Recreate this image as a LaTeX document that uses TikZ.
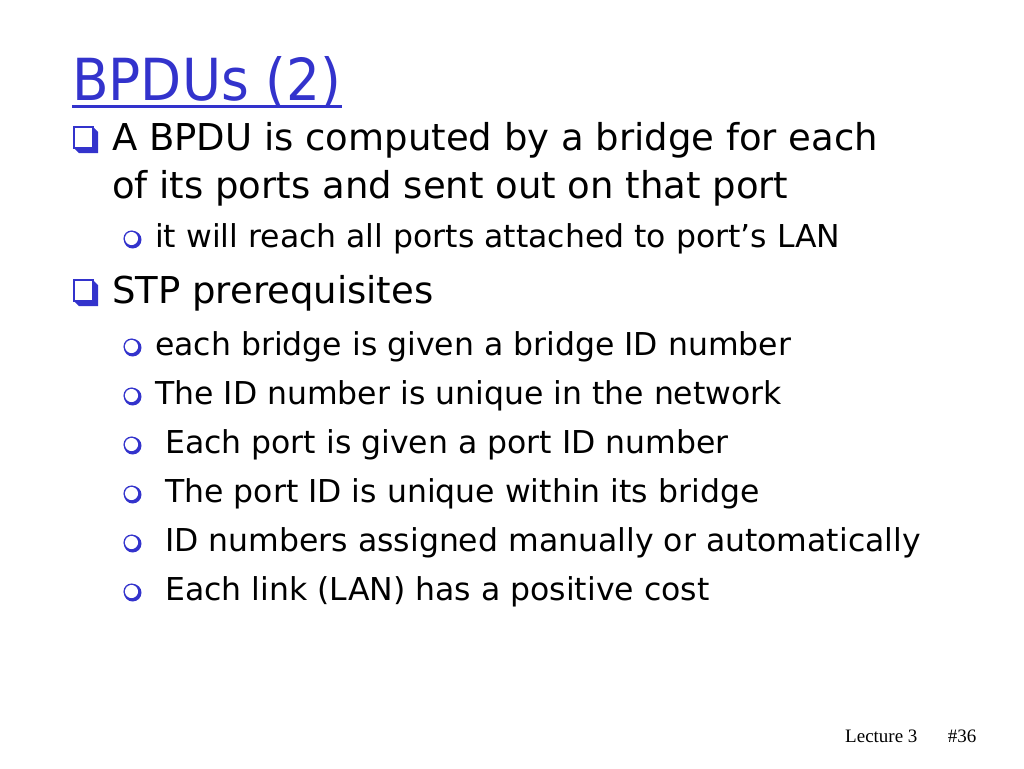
\documentclass[tikz,border=0pt]{standalone}
\usepackage{fontspec}
\setmainfont{DejaVu Sans}
\newfontfamily\footfont{Liberation Serif}
\usepackage{tikz}
\usetikzlibrary{positioning}
\definecolor{slideblue}{RGB}{51,51,204}
\tikzstyle{heading}=[anchor=base west, inner sep=0pt, text=slideblue, font=\fontsize{58}{66}\selectfont]
\tikzstyle{point}=[anchor=base west, inner sep=0pt, font=\fontsize{37}{44}\selectfont]
\tikzstyle{subpoint}=[anchor=base west, inner sep=0pt, font=\fontsize{31.5}{38}\selectfont]
\tikzstyle{footer}=[anchor=base west, inner sep=0pt, font=\footfont\fontsize{19}{22}\selectfont]
\newcommand{\boxbullet}[1]{%
  \begin{scope}[shift={(#1)}]
    \fill[slideblue] (-19,-23) -- (-14,-18) -- (-14,3) -- (-33,3) -- (-38,-2) -- (-19,-2) -- cycle;
    \draw[slideblue, line width=2.2pt] (-38,-23) rectangle (-19,-2);
  \end{scope}}
\newcommand{\ringbullet}[1]{%
  \begin{scope}[shift={(#1)}]
    \fill[slideblue] (-22.3,-7.3) circle (8.8);
    \fill[white] (-23.5,-8.5) circle (6.6);
    \draw[slideblue, line width=1pt] (-23.5,-8.5) circle (7.5);
  \end{scope}}

\begin{document}
\begin{tikzpicture}[x=1pt, y=-1pt]
    \useasboundingbox (0,0) rectangle (1024,768);
    \node [heading] (title) at (72,100) {\scalebox{0.92}[1]{BPDUs (2)}};
    \draw [slideblue, line width=3pt] ([yshift=-6pt]title.base west) -- ([yshift=-6pt]title.base east);
    \node [point] (a) at (112,150) {A BPDU is computed by a bridge for each};
    \node [point, below=48pt of a.base west, anchor=base west] (b) {of its ports and sent out on that port};
    \node [subpoint] (c) at (155,247) {it will reach all ports attached to port’s LAN};
    \node [point] (d) at (112,303) {STP prerequisites};
    \node [subpoint] (e) at (155,355) {each bridge is given a bridge ID number};
    \node [subpoint, below=49pt of e.base west, anchor=base west] (f) {The ID number is unique in the network};
    \node [subpoint, below=49pt of f.base west, anchor=base west] (g) {\ Each port is given a port ID number};
    \node [subpoint, below=49pt of g.base west, anchor=base west] (h) {\ The port ID is unique within its bridge};
    \node [subpoint, below=49pt of h.base west, anchor=base west] (i) {\ ID numbers assigned manually or automatically};
    \node [subpoint, below=49pt of i.base west, anchor=base west] (j) {\ Each link (LAN) has a positive cost};
    \boxbullet{a.base west}
    \boxbullet{d.base west}
    \foreach \n in {c,e,f,g,h,i,j}
        \ringbullet{\n.base west};
    \node [footer] (lecture) at (845,742) {Lecture 3};
    \node [footer, right=30pt of lecture.base east, anchor=base west] (slide) {\#36};
\end{tikzpicture}
\end{document}
